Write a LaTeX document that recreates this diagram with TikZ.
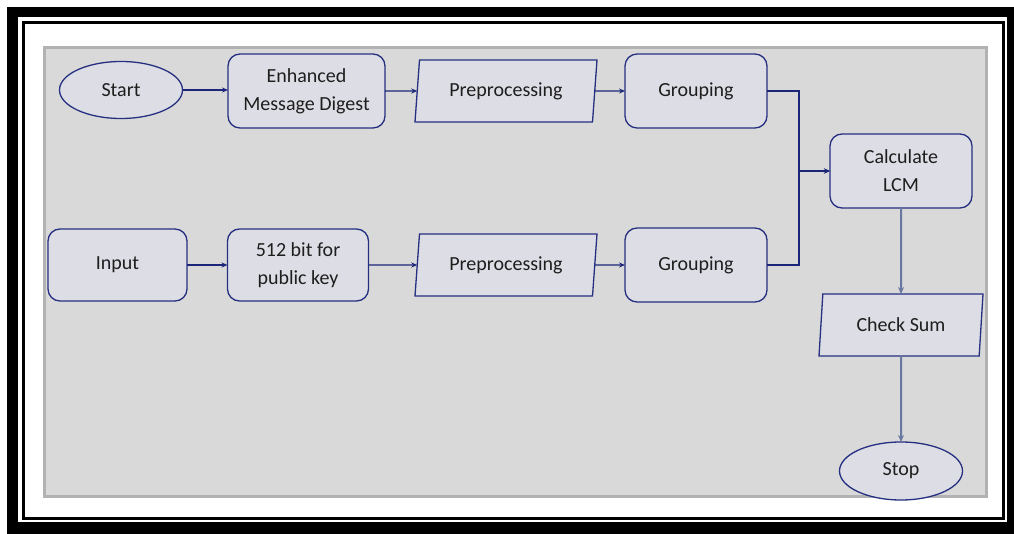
\documentclass[tikz,border=0pt]{standalone}
\usepackage{fontspec}
\setmainfont{Carlito}
\usetikzlibrary{shapes.geometric,arrows.meta}
\definecolor{bggray}{RGB}{217,217,217}
\definecolor{edgegray}{RGB}{178,178,178}
\definecolor{nodefill}{RGB}{221,221,229}
\definecolor{navy}{RGB}{38,48,128}
\definecolor{linkblue}{RGB}{28,38,120}
\definecolor{vlink}{RGB}{105,120,160}
\definecolor{txt}{RGB}{30,30,30}
\tikzset{
  base/.style={draw=navy, line width=1.3pt, fill=nodefill, text=txt, align=center,
    font=\fontsize{20}{28}\selectfont, inner sep=2pt, outer sep=0pt},
  rbox/.style={base, rectangle, rounded corners=12pt},
  oval/.style={base, ellipse},
  para/.style={base, trapezium, trapezium left angle=78, trapezium right angle=102,
    trapezium stretches body},
  link/.style={draw=linkblue, line width=1.2pt, -{Stealth[length=6pt,width=5pt]}},
  vlinkst/.style={draw=vlink, line width=2pt, -{Stealth[length=7pt,width=6pt]}},
}
\begin{document}
\begin{tikzpicture}[x=1pt,y=-1pt]
\useasboundingbox (0,0) rectangle (1014,534);
% frames
\fill[black] (7,7) rectangle (1014,534);
\fill[white] (18,17) rectangle (1007,522);
\draw[black, line width=3pt] (23,22.5) rectangle (1003,518.5);
\fill[bggray] (43,46) rectangle (988,498);
\draw[edgegray, line width=3pt] (44.5,47.5) rectangle (986.5,496.5);
% nodes
\node[oval, minimum width=123pt, minimum height=57pt] (start) at (121,90) {Start};
\node[rbox, minimum width=157pt, minimum height=74pt] (emd) at (306.5,91) {Enhanced\\Message Digest};
\node[para, minimum width=182pt, minimum height=62pt] (pre1) at (506,91) {Preprocessing};
\node[rbox, minimum width=142pt, minimum height=74pt] (grp1) at (696,91) {Grouping};
\node[rbox, minimum width=142pt, minimum height=74pt] (lcm) at (901,171) {Calculate\\LCM};
\node[rbox, minimum width=139pt, minimum height=72pt] (input) at (117.5,265) {Input};
\node[rbox, minimum width=141pt, minimum height=72pt] (key) at (298,265) {512 bit for\\public key};
\node[para, minimum width=182pt, minimum height=62pt] (pre2) at (506,265) {Preprocessing};
\node[rbox, minimum width=142pt, minimum height=74pt] (grp2) at (696,265) {Grouping};
\node[para, minimum width=164pt, minimum height=62pt] (chk) at (901,325) {Check Sum};
\node[oval, minimum width=123pt, minimum height=58pt] (stop) at (901,471) {Stop};
% connectors
\draw[link] (start.east) -- (emd.west |- start.east);
\draw[link] (emd) -- (pre1);
\draw[link] (pre1) -- (grp1);
\draw[link] (input) -- (key);
\draw[link] (key) -- (pre2);
\draw[link] (pre2) -- (grp2);
\draw[link] (grp1.east) -- ++(32,0) |- (lcm.west);
\draw[link] (grp2.east) -- ++(32,0) |- (lcm.west);
\draw[vlinkst] (lcm.south) -- (chk.north);
\draw[vlinkst] (chk.south) -- (stop.north);
\end{tikzpicture}
\end{document}
